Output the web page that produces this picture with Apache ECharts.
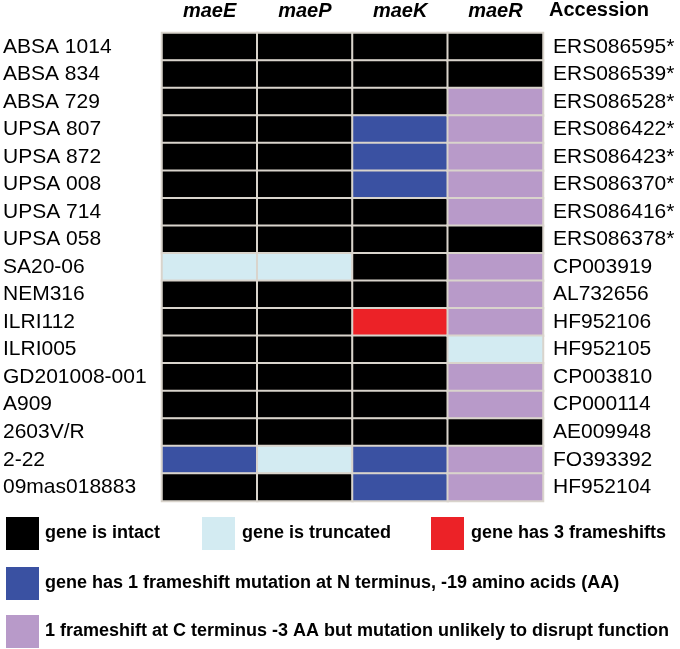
<!DOCTYPE html>
<html>
<head>
<meta charset="utf-8">
<script src="https://cdn.jsdelivr.net/npm/echarts@6/dist/echarts.min.js"></script>
<style>html,body{margin:0;padding:0;background:#fff;}#c{width:680px;height:649px;}</style>
</head>
<body>
<div id="c"></div>
<script>
const genes = ['maeE', 'maeP', 'maeK', 'maeR'];
const strains = ['ABSA 1014','ABSA 834','ABSA 729','UPSA 807','UPSA 872','UPSA 008','UPSA 714','UPSA 058','SA20-06','NEM316','ILRI112','ILRI005','GD201008-001','A909','2603V/R','2-22','09mas018883'];
const accessions = ['ERS086595*','ERS086539*','ERS086528*','ERS086422*','ERS086423*','ERS086370*','ERS086416*','ERS086378*','CP003919','AL732656','HF952106','HF952105','CP003810','CP000114','AE009948','FO393392','HF952104'];
// status codes: 0 intact, 1 truncated, 2 three frameshifts, 3 N-terminus frameshift, 4 C-terminus frameshift
const maeE = [0,0,0,0,0,0,0,0,1,0,0,0,0,0,0,3,0];
const maeP = [0,0,0,0,0,0,0,0,1,0,0,0,0,0,0,1,0];
const maeK = [0,0,0,3,3,3,0,0,0,0,2,0,0,0,0,3,3];
const maeR = [0,0,4,4,4,4,4,0,4,4,4,1,4,4,0,4,4];
const statusLabels = ['gene is intact','gene is truncated','gene has 3 frameshifts','gene has 1 frameshift mutation at N terminus, -19 amino acids (AA)','1 frameshift at C terminus -3 AA but mutation unlikely to disrupt function'];
const statusColors = ['#000000','#d3ebf2','#ec2227','#3a51a2','#b89ac9'];

const cols = [maeE, maeP, maeK, maeR];
const data = [];
cols.forEach((col, gi) => col.forEach((v, si) => {
  data.push({value: [gi, si, v], itemStyle: {color: statusColors[v]}});
}));

const font = '"Liberation Sans", Arial, sans-serif';
const legendPos = [
  {x: 6, y: 517, tx: 45}, {x: 202, y: 517, tx: 242}, {x: 431, y: 517, tx: 471},
  {x: 6, y: 567, tx: 45}, {x: 6, y: 615, tx: 45}
];
const graphics = [];
statusLabels.forEach((lab, i) => {
  const p = legendPos[i];
  graphics.push({type: 'rect', left: p.x, top: p.y, shape: {width: 33, height: 33}, style: {fill: statusColors[i]}});
  graphics.push({type: 'text', left: p.tx, top: p.y + 7, style: {text: lab, font: 'bold 18px ' + font, fill: '#000'}});
});
graphics.push({type: 'text', left: 549, top: 0, style: {text: 'Accession', font: 'bold 20px ' + font, fill: '#000'}});

const chart = echarts.init(document.getElementById('c'), null, {renderer: 'canvas'});
chart.setOption({
  animation: false,
  grid: {left: 161, right: 137, top: 33, height: 468},
  xAxis: {
    type: 'category', data: genes, position: 'top',
    axisLine: {show: false}, axisTick: {show: false}, splitLine: {show: false},
    axisLabel: {fontFamily: font, fontSize: 20, fontWeight: 'bold', fontStyle: 'italic', color: '#000', margin: 12}
  },
  yAxis: [
    {type: 'category', data: strains, inverse: true,
     axisLine: {show: false}, axisTick: {show: false}, splitLine: {show: false},
     axisLabel: {fontFamily: font, fontSize: 21, color: '#000', align: 'left', margin: 159}},
    {type: 'category', data: accessions, inverse: true, position: 'right',
     axisLine: {show: false}, axisTick: {show: false}, splitLine: {show: false},
     axisLabel: {fontFamily: font, fontSize: 21, color: '#000', align: 'left', margin: 10}}
  ],
  series: [{
    type: 'heatmap', data: data,
    itemStyle: {borderColor: '#d9d4cc', borderWidth: 2},
    emphasis: {disabled: true}
  }],
  graphic: graphics
});
</script>
</body>
</html>
